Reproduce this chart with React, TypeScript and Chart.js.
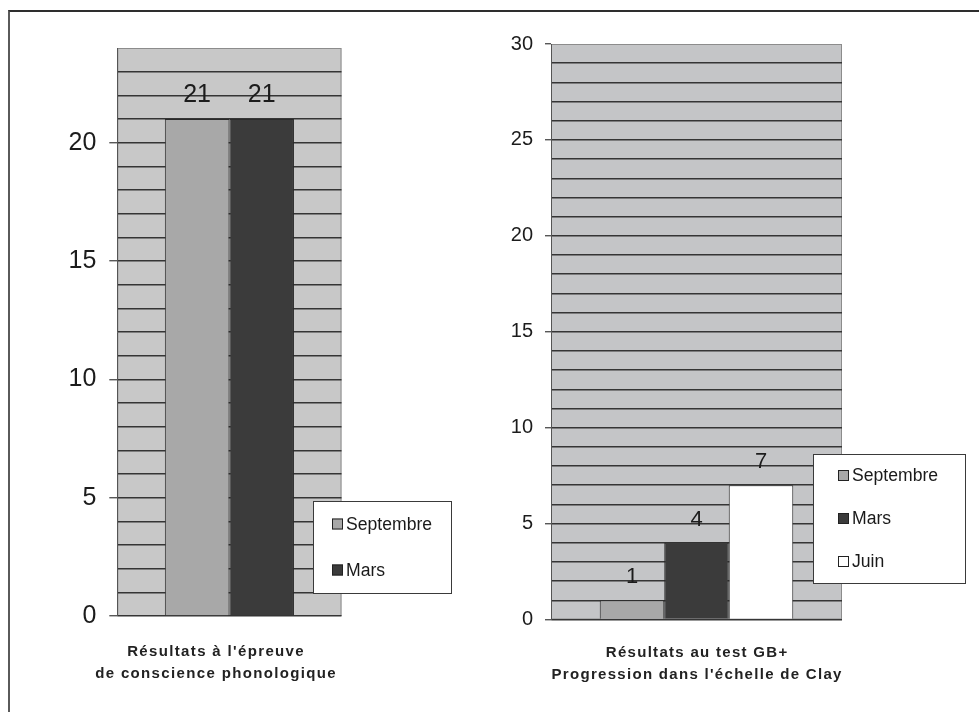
import React, { useEffect, useRef } from 'react';
import { Chart, registerables } from 'chart.js';

Chart.register(...registerables);

const FONT = "'Liberation Sans', Arial, Helvetica, sans-serif";

// Épreuve de conscience phonologique
const phonoCategories = [''];
const phonoSeries = ['Septembre', 'Mars'];
const phonoValues = [21, 21];
const phonoMax = 24;
const phonoTitle = ["Résultats à l'épreuve", 'de conscience phonologique'];

// Test GB+ (échelle de Clay)
const gbCategories = [''];
const gbSeries = ['Septembre', 'Mars', 'Juin'];
const gbValues = [1, 4, 7];
const gbMax = 30;
const gbTitle = ['Résultats au test GB+', "Progression dans l'échelle de Clay"];

const labelStep = 5;

const seriesFill: Record<string, string> = {
  Septembre: '#a8a8a8',
  Mars: '#3b3b3b',
  Juin: '#ffffff',
};

const plotBackground = {
  id: 'plotBackground',
  beforeDraw(chart: any, _args: any, opts: any) {
    const { ctx, chartArea: a } = chart;
    ctx.save();
    ctx.fillStyle = opts.color;
    ctx.fillRect(a.left, a.top, a.right - a.left, a.bottom - a.top);
    ctx.strokeStyle = opts.edge;
    ctx.lineWidth = 1;
    ctx.strokeRect(a.left + 0.5, a.top + 0.5, a.right - a.left - 1, a.bottom - a.top - 1);
    ctx.restore();
  },
};

const valueLabels = {
  id: 'valueLabels',
  afterDatasetsDraw(chart: any, _args: any, opts: any) {
    const ctx = chart.ctx;
    ctx.save();
    ctx.font = `${opts.size}px ${FONT}`;
    ctx.fillStyle = '#1c1c1c';
    ctx.textAlign = 'center';
    ctx.textBaseline = 'alphabetic';
    chart.data.datasets.forEach((ds: any, i: number) => {
      const meta = chart.getDatasetMeta(i);
      meta.data.forEach((el: any, j: number) => {
        ctx.fillText(String(ds.data[j]), el.x, el.y - opts.offset);
      });
    });
    ctx.restore();
  },
};

const boxedLegend = {
  id: 'boxedLegend',
  afterDraw(chart: any, _args: any, opts: any) {
    const { ctx } = chart;
    const { left, top, width, height, rowGap, size, marker, inset } = opts;
    ctx.save();
    ctx.fillStyle = '#ffffff';
    ctx.fillRect(left, top, width, height);
    ctx.strokeStyle = '#3a3a3a';
    ctx.lineWidth = 1;
    ctx.strokeRect(left + 0.5, top + 0.5, width, height);
    const n = chart.data.datasets.length;
    const cy0 = top + height / 2 - (rowGap * (n - 1)) / 2;
    ctx.font = `${size}px ${FONT}`;
    ctx.textBaseline = 'middle';
    ctx.textAlign = 'left';
    chart.data.datasets.forEach((ds: any, i: number) => {
      const cy = cy0 + i * rowGap;
      const mx = left + inset;
      ctx.fillStyle = ds.backgroundColor;
      ctx.fillRect(mx, cy - marker / 2, marker, marker);
      ctx.strokeStyle = '#222222';
      ctx.strokeRect(mx + 0.5, cy - marker / 2 + 0.5, marker - 1, marker - 1);
      ctx.fillStyle = '#1a1a1a';
      ctx.fillText(ds.label, mx + marker + 3, cy + 1);
    });
    ctx.restore();
  },
};

const bottomTitle = {
  id: 'bottomTitle',
  afterDraw(chart: any, _args: any, opts: any) {
    const { ctx, chartArea: a } = chart;
    ctx.save();
    ctx.font = `bold ${opts.size}px ${FONT}`;
    (ctx as any).letterSpacing = `${opts.spacing}px`;
    ctx.textAlign = 'center';
    ctx.textBaseline = 'alphabetic';
    ctx.fillStyle = '#222222';
    const cx = (a.left + a.right) / 2 + opts.shift + opts.spacing / 2;
    opts.lines.forEach((line: string, i: number) => {
      ctx.fillText(line, cx, a.bottom + opts.firstBaseline + i * opts.lineGap);
    });
    ctx.restore();
  },
};

function makeConfig(p: any) {
  return {
    type: 'bar',
    data: {
      labels: p.categories,
      datasets: p.series.map((s: string, i: number) => ({
        label: s,
        data: [p.values[i]],
        backgroundColor: seriesFill[s],
        borderColor: '#2a2a2a',
        borderWidth: 1,
        categoryPercentage: p.catPct,
        barPercentage: 1,
      })),
    },
    options: {
      responsive: false,
      animation: false,
      layout: { padding: { left: 0, top: p.padTop, right: p.padRight, bottom: 0 } },
      font: { family: FONT },
      plugins: {
        legend: { display: false },
        tooltip: { enabled: false },
        plotBackground: { color: p.bg, edge: '#8c8c8c' },
        valueLabels: { size: p.labelSize, offset: 17 },
        boxedLegend: p.legend,
        bottomTitle: p.title,
      },
      scales: {
        x: {
          type: 'category',
          offset: true,
          ticks: { display: false },
          grid: { display: false, drawTicks: false },
          border: { display: false },
          afterFit: (s: any) => {
            s.height = p.xHeight;
          },
        },
        y: {
          min: 0,
          max: p.max,
          ticks: {
            stepSize: 1,
            autoSkip: false,
            padding: p.tickPad,
            color: '#1c1c1c',
            font: { size: p.tickSize, family: FONT },
            callback: (v: number) => (v % labelStep === 0 ? String(v) : ''),
          },
          grid: {
            color: (c: any) => (c.tick && c.tick.value === p.max ? 'rgba(0,0,0,0)' : '#353535'),
            lineWidth: 1.5,
            tickLength: p.tickLength,
            tickWidth: 1.2,
            tickColor: (c: any) =>
              c.tick && c.tick.value % labelStep === 0 ? '#3a3a3a' : 'rgba(0,0,0,0)',
          },
          border: { color: '#555555', width: 1 },
          afterFit: (s: any) => {
            s.width = p.yWidth;
          },
        },
      },
    },
    plugins: [plotBackground, valueLabels, boxedLegend, bottomTitle],
  };
}

const phonoConfig = makeConfig({
  categories: phonoCategories,
  series: phonoSeries,
  values: phonoValues,
  max: phonoMax,
  catPct: 0.576,
  bg: '#c8c8c8',
  padTop: 26,
  padRight: 138.5,
  yWidth: 107.3,
  xHeight: 89,
  tickSize: 25,
  tickPad: 13,
  tickLength: 8,
  labelSize: 25,
  legend: { left: 303, top: 481, width: 138, height: 92, rowGap: 46, size: 17.6, marker: 11, inset: 19 },
  title: { lines: phonoTitle, size: 15, spacing: 1.35, shift: -14, firstBaseline: 40, lineGap: 22 },
});

const gbConfig = makeConfig({
  categories: gbCategories,
  series: gbSeries,
  values: gbValues,
  max: gbMax,
  catPct: 0.665,
  bg: '#c4c5c7',
  padTop: 23.3,
  padRight: 133,
  yWidth: 71,
  xHeight: 85.5,
  tickSize: 20,
  tickPad: 12,
  tickLength: 6,
  labelSize: 22,
  legend: { left: 333, top: 434, width: 152, height: 129, rowGap: 43, size: 17.6, marker: 11, inset: 25 },
  title: { lines: gbTitle, size: 15, spacing: 1.3, shift: 0, firstBaseline: 37, lineGap: 22 },
});

function Panel({ config, left, top, width, height }: any) {
  const ref = useRef<HTMLCanvasElement>(null);
  useEffect(() => {
    const chart = new Chart(ref.current as HTMLCanvasElement, config);
    return () => chart.destroy();
  }, [config]);
  return (
    <canvas
      ref={ref}
      width={width}
      height={height}
      style={{ position: 'absolute', left, top, width, height }}
    />
  );
}

export default function App() {
  return (
    <div
      style={{
        position: 'absolute',
        left: 0,
        top: 0,
        width: 979,
        height: 712,
        overflow: 'hidden',
        background: '#ffffff',
      }}
    >
      <div
        style={{
          position: 'absolute',
          left: 8,
          top: 10,
          width: 971,
          height: 702,
          borderTop: '2px solid #2e2e2e',
          borderLeft: '2px solid #5a5a5a',
          boxSizing: 'border-box',
        }}
      />
      <Panel config={phonoConfig} left={10} top={20} width={470} height={685} />
      <Panel config={gbConfig} left={480} top={20} width={495} height={685} />
    </div>
  );
}
